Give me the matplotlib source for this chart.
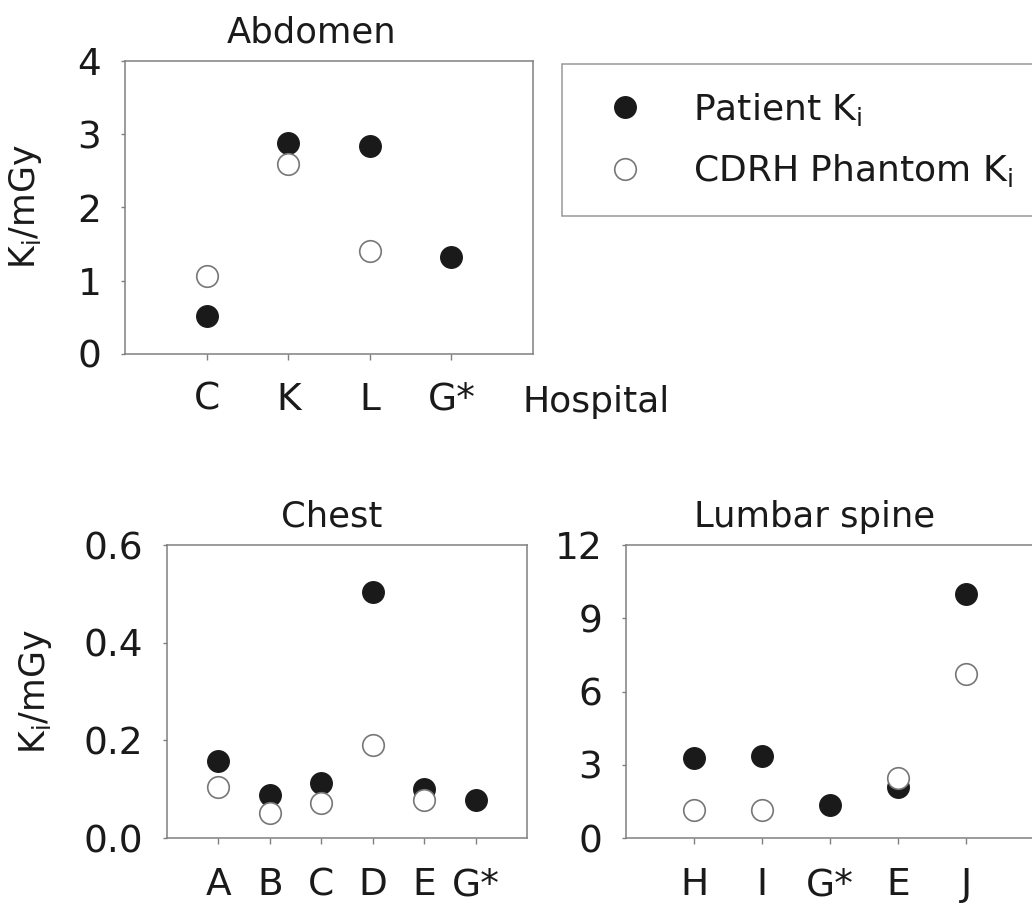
import numpy as np
import matplotlib
matplotlib.use('Agg')
import matplotlib.pyplot as plt
from matplotlib.lines import Line2D

# Incident air kerma per hospital (patient mean vs CDRH phantom)
abd_hosp = ['C', 'K', 'L', 'G*']
abd_patient = [0.52, 2.88, 2.84, 1.32]
abd_phantom = [1.07, 2.60, 1.40, np.nan]

chest_hosp = ['A', 'B', 'C', 'D', 'E', 'G*']
chest_patient = [0.157, 0.089, 0.113, 0.504, 0.100, 0.077]
chest_phantom = [0.105, 0.051, 0.072, 0.190, 0.077, np.nan]

lumbar_hosp = ['H', 'I', 'G*', 'E', 'J']
lumbar_patient = [3.26, 3.37, 1.37, 2.09, 10.0]
lumbar_phantom = [1.14, 1.14, np.nan, 2.44, 6.70]

W, H = 1032, 905
plt.rcParams['font.family'] = 'DejaVu Sans'
plt.rcParams['mathtext.default'] = 'regular'

GREY = '#808080'
INK = '#1a1a1a'

fig = plt.figure(figsize=(W / 100, H / 100), dpi=100)


def px_axes(left, top, right, bottom):
    return fig.add_axes([left / W, 1 - bottom / H, (right - left) / W, (bottom - top) / H])


def panel(ax, hosp, patient, phantom, ymax, yticks, title, xpad, tx, yfmt='%g'):
    x = np.arange(1, len(hosp) + 1)
    ax.plot(x, patient, 'o', ms=15.5, mfc=INK, mec=INK, mew=1, zorder=3)
    ax.plot(x, phantom, 'o', ms=15.5, mfc='white', mec='#777777', mew=1.2, zorder=4)
    ax.set_xlim(0, len(hosp) + 1)
    ax.set_ylim(0, ymax)
    ax.set_xticks(x)
    ax.set_xticklabels(hosp, fontsize=27, color=INK)
    ax.set_yticks(yticks)
    ax.set_yticklabels([yfmt % v for v in yticks], fontsize=27, color=INK)
    ax.tick_params(axis='x', direction='out', length=4, width=1, color=GREY, pad=xpad)
    ax.tick_params(axis='y', direction='out', length=3, width=1, color=GREY, pad=14)
    for s in ax.spines.values():
        s.set_color(GREY)
        s.set_linewidth(1.1)
    ax.set_title(title, fontsize=25.5, color=INK, x=tx, pad=13)


ax1 = px_axes(125, 61, 533, 354)
panel(ax1, abd_hosp, abd_patient, abd_phantom, 4, [0, 1, 2, 3, 4], 'Abdomen', 16, 0.458)

ax2 = px_axes(167, 545, 527, 838)
panel(ax2, chest_hosp, chest_patient, chest_phantom, 0.6, [0.0, 0.2, 0.4, 0.6], 'Chest', 17, 0.458,
      yfmt='%.1f')

ax3 = px_axes(626, 545, 1034, 838)
panel(ax3, lumbar_hosp, lumbar_patient, lumbar_phantom, 12, [0, 3, 6, 9, 12], 'Lumbar spine', 17, 0.461)

ylab = 'K$_{i}$/mGy'
fig.text(26 / W, 1 - 207 / H, ylab, rotation=90, ha='center', va='center', fontsize=25, color=INK)
fig.text(35 / W, 1 - 692 / H, ylab, rotation=90, ha='center', va='center', fontsize=25, color=INK)
fig.text(522 / W, 1 - 412 / H, 'Hospital', ha='left', va='baseline', fontsize=26, color=INK)

handles = [
    Line2D([], [], ls='none', marker='o', ms=15.5, mfc=INK, mec=INK),
    Line2D([], [], ls='none', marker='o', ms=15.5, mfc='white', mec='#777777', mew=1.2),
]
leg = fig.legend(handles, ['Patient K$_{i}$', 'CDRH Phantom K$_{i}$'],
                 loc='upper left', bbox_to_anchor=(561.7 / W, 1 - 64 / H),
                 borderaxespad=0, fontsize=26, frameon=True, fancybox=False,
                 borderpad=0.74, handlelength=2.0, handletextpad=0.9, labelspacing=0.68,
                 labelcolor=INK)
leg.get_frame().set_edgecolor(GREY)
leg.get_frame().set_linewidth(1.1)

fig.savefig('out.png', dpi=100)
